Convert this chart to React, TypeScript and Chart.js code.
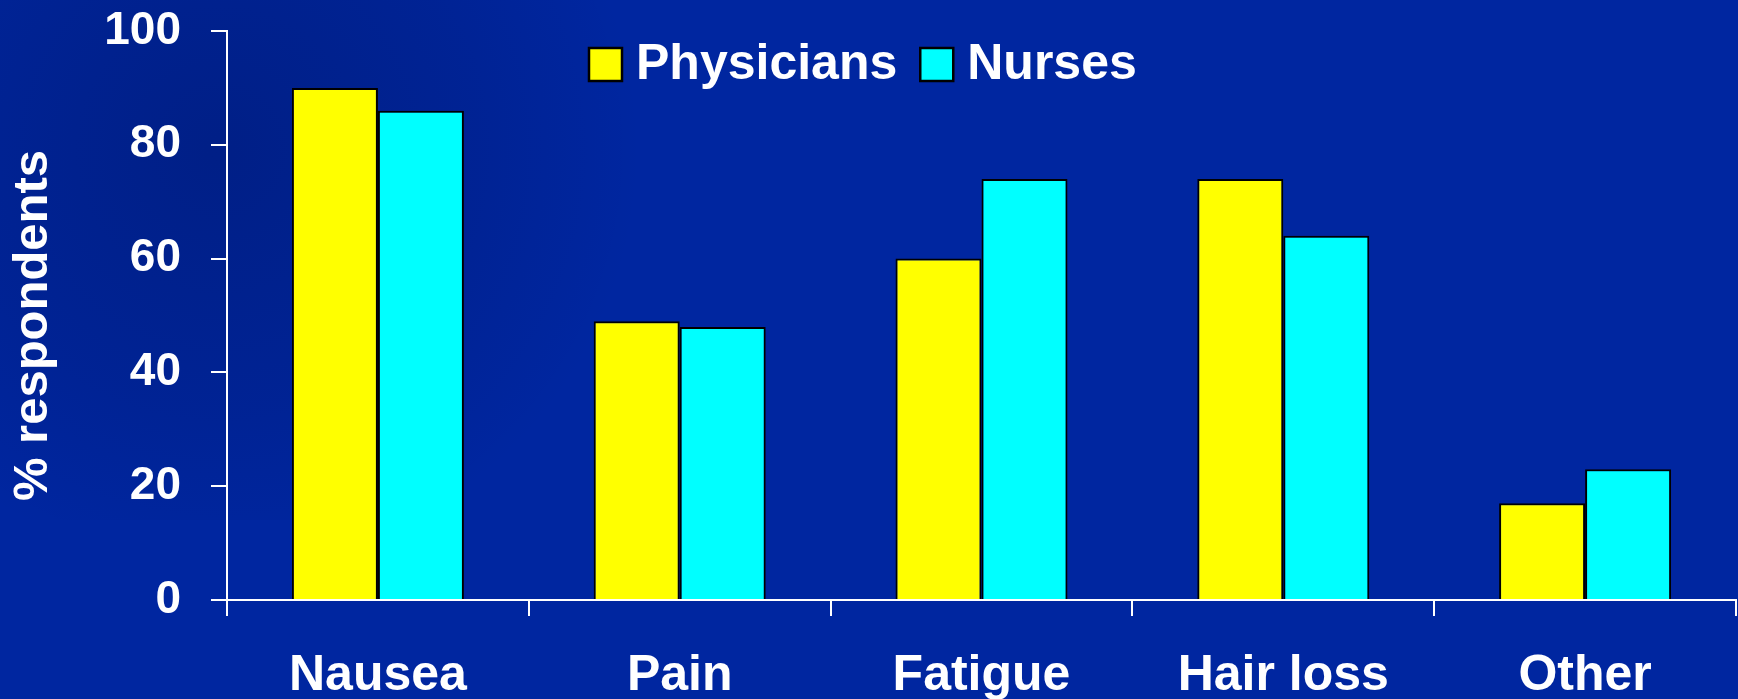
import React, { useEffect, useRef } from "react";
import { Chart, registerables } from "chart.js";

Chart.register(...registerables);

const categories = ["Nausea", "Pain", "Fatigue", "Hair loss", "Other"];
const physicians = [90, 49, 60, 74, 17];
const nurses = [86, 48, 74, 64, 23];
const yTicks = [0, 20, 40, 60, 80, 100];
const seriesNames = ["Physicians", "Nurses"];
const seriesColors = ["#FFFF00", "#00FFFF"];
const yTitle = "% respondents";

const BG = "#0026A0";
const FONT = "'Liberation Sans', Arial, sans-serif";

const bgPlugin = {
  id: "bgPlugin",
  beforeDraw(chart: any) {
    const { ctx, width, height } = chart;
    ctx.save();
    ctx.fillStyle = BG;
    ctx.fillRect(0, 0, width, height);
    const g = ctx.createRadialGradient(220, 150, 10, 220, 150, 420);
    g.addColorStop(0, "rgba(0,10,60,0.25)");
    g.addColorStop(0.6, "rgba(0,10,60,0.12)");
    g.addColorStop(1, "rgba(0,10,60,0)");
    ctx.fillStyle = g;
    ctx.fillRect(0, 0, 720, 520);
    ctx.restore();
  },
};

const titlePlugin = {
  id: "yTitlePlugin",
  afterDraw(chart: any) {
    const { ctx, chartArea } = chart;
    ctx.save();
    ctx.font = `bold 49px ${FONT}`;
    ctx.fillStyle = "#FFFFFF";
    ctx.textAlign = "center";
    ctx.textBaseline = "middle";
    ctx.translate(33, (chartArea.top + chartArea.bottom) / 2 + 10);
    ctx.rotate(-Math.PI / 2);
    ctx.fillText(yTitle, 0, 0);
    ctx.restore();
  },
};

const legendPlugin = {
  id: "customLegend",
  afterDraw(chart: any) {
    const { ctx, chartArea } = chart;
    const box = 33;
    let x = chartArea.left + 362;
    const top = 48;
    ctx.save();
    ctx.font = `bold 50px ${FONT}`;
    ctx.textBaseline = "middle";
    ctx.textAlign = "left";
    chart.data.datasets.forEach((ds: any) => {
      ctx.fillStyle = ds.backgroundColor;
      ctx.fillRect(x, top, box, box);
      ctx.lineWidth = 2.5;
      ctx.strokeStyle = "#000";
      ctx.strokeRect(x, top, box, box);
      ctx.fillStyle = "#FFFFFF";
      const tx = x + box + 14;
      ctx.fillText(ds.label, tx, top + box / 2 + 1);
      x = tx + ctx.measureText(ds.label).width + 23;
    });
    ctx.restore();
  },
};

function App() {
  const ref = useRef<HTMLCanvasElement | null>(null);

  useEffect(() => {
    if (!ref.current) return;
    const chart = new Chart(ref.current, {
      type: "bar",
      data: {
        labels: categories,
        datasets: [
          {
            label: seriesNames[0],
            data: physicians,
            backgroundColor: seriesColors[0],
            borderColor: "#000000",
            borderWidth: 2,
          },
          {
            label: seriesNames[1],
            data: nurses,
            backgroundColor: seriesColors[1],
            borderColor: "#000000",
            borderWidth: 2,
          },
        ],
      },
      options: {
        responsive: false,
        animation: false,
        maintainAspectRatio: false,
        layout: { padding: { top: 31, right: 2, left: 0, bottom: 0 } },
        datasets: { bar: { barPercentage: 1, categoryPercentage: 0.57 } },
        plugins: {
          legend: { display: false },
          tooltip: { enabled: false },
        },
        scales: {
          x: {
            grid: {
              display: true,
              offset: true,
              drawOnChartArea: false,
              drawTicks: true,
              tickLength: 16,
              color: "#FFFFFF",
              lineWidth: 2,
            },
            border: { display: true, color: "#FFFFFF", width: 2 },
            ticks: {
              color: "#FFFFFF",
              font: { family: FONT, size: 50, weight: "bold" },
              padding: 30,
              maxRotation: 0,
              autoSkip: false,
            },
            afterFit(scale: any) {
              scale.height = 99;
              scale.paddingLeft = 0;
              scale.paddingRight = 0;
            },
          },
          y: {
            min: 0,
            max: 100,
            afterBuildTicks(scale: any) {
              scale.ticks = yTicks.map((v) => ({ value: v }));
            },
            grid: {
              display: true,
              drawOnChartArea: false,
              drawTicks: true,
              tickLength: 16,
              color: "#FFFFFF",
              lineWidth: 2,
            },
            border: { display: true, color: "#FFFFFF", width: 2 },
            ticks: {
              color: "#FFFFFF",
              font: { family: FONT, size: 46, weight: "bold" },
              padding: 30,
            },
            title: { display: false },
            afterFit(scale: any) {
              scale.width = 227;
              scale.paddingTop = 0;
              scale.paddingBottom = 0;
            },
          },
        },
      },
      plugins: [bgPlugin, titlePlugin, legendPlugin],
    });
    return () => chart.destroy();
  }, []);

  return (
    <div
      style={{
        position: "fixed",
        left: 0,
        top: 0,
        width: 1738,
        height: 699,
        background: BG,
      }}
    >
      <canvas ref={ref} width={1738} height={699} style={{ display: "block", width: 1738, height: 699 }} />
    </div>
  );
}

export default App;
